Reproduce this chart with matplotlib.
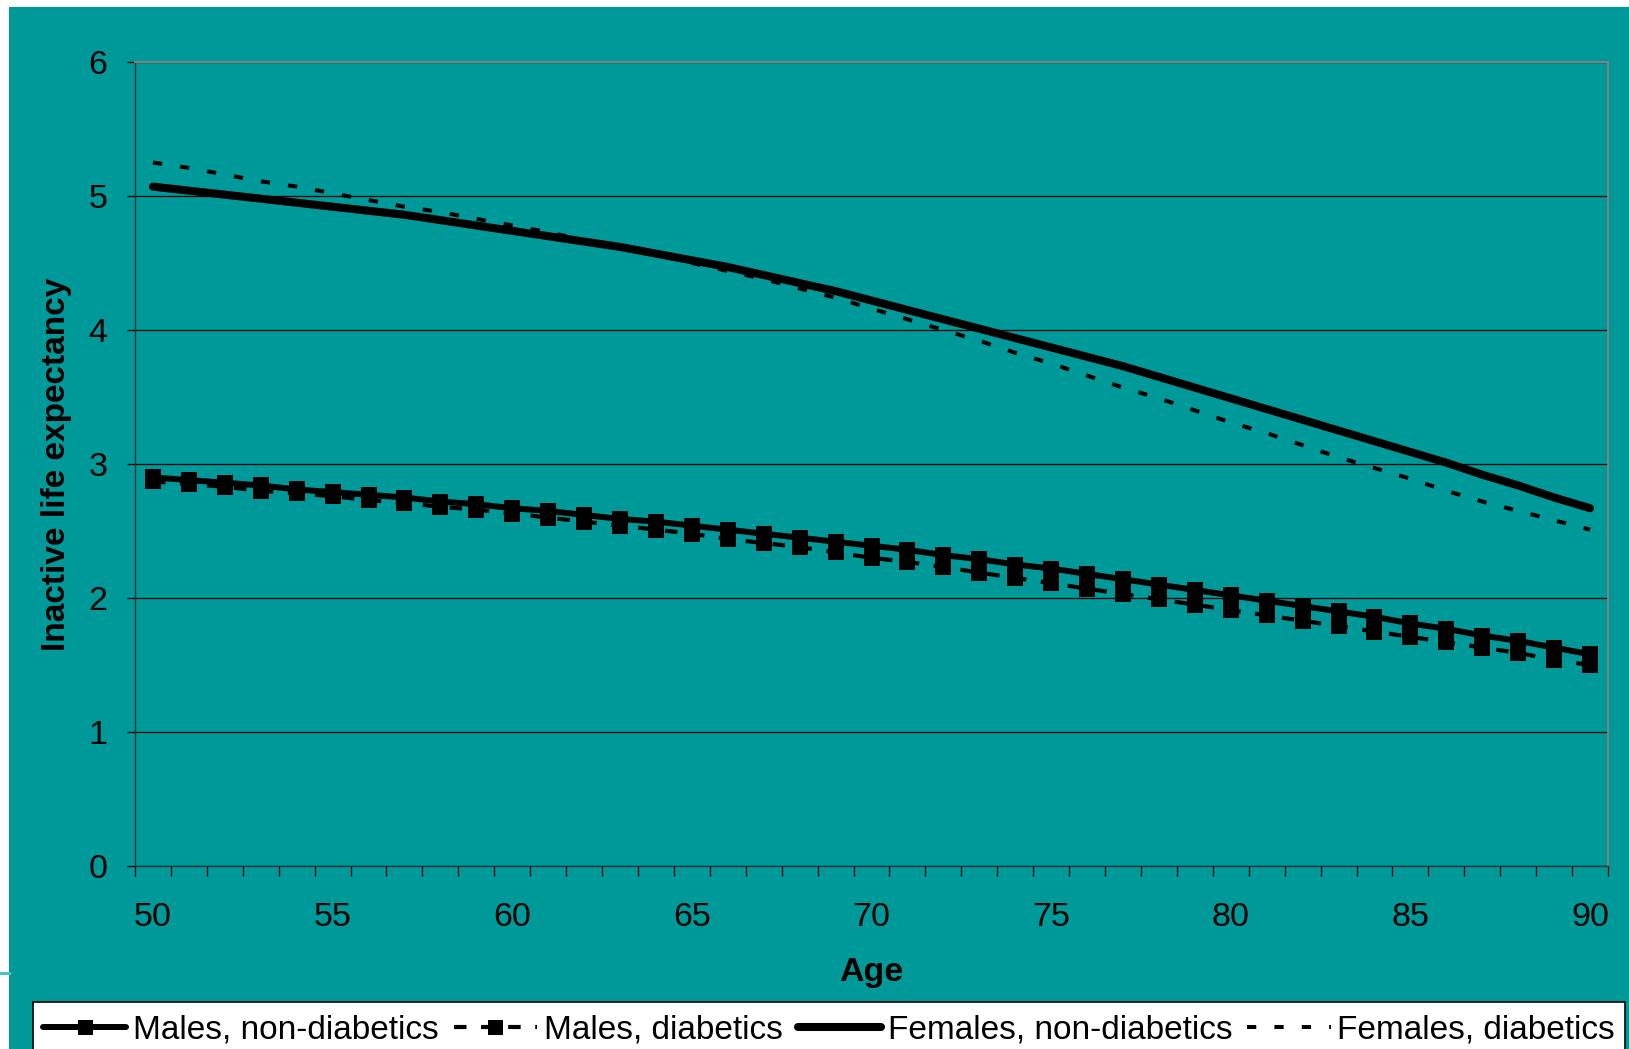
import matplotlib
matplotlib.use("Agg")
import matplotlib.pyplot as plt
from matplotlib.patches import Rectangle
from matplotlib.lines import Line2D
import numpy as np

ages = list(range(50, 91))
x_tick_labels = ["50", "55", "60", "65", "70", "75", "80", "85", "90"]
y_ticks = [0, 1, 2, 3, 4, 5, 6]

males_non_diabetics = [2.90, 2.88, 2.86, 2.84, 2.81, 2.79, 2.77, 2.75, 2.72, 2.70,
                       2.67, 2.65, 2.62, 2.59, 2.57, 2.54, 2.51, 2.48, 2.45, 2.42,
                       2.39, 2.36, 2.32, 2.29, 2.25, 2.22, 2.18, 2.14, 2.10, 2.06,
                       2.02, 1.98, 1.94, 1.90, 1.86, 1.81, 1.77, 1.72, 1.68, 1.63,
                       1.58]
males_diabetics = [2.87, 2.85, 2.83, 2.80, 2.78, 2.76, 2.73, 2.71, 2.68, 2.66,
                   2.63, 2.60, 2.57, 2.54, 2.51, 2.48, 2.44, 2.41, 2.38, 2.34,
                   2.30, 2.27, 2.23, 2.19, 2.15, 2.11, 2.07, 2.03, 1.99, 1.95,
                   1.91, 1.87, 1.83, 1.79, 1.75, 1.71, 1.67, 1.63, 1.59, 1.54,
                   1.50]
females_non_diabetics = [5.07, 5.04, 5.01, 4.98, 4.95, 4.92, 4.89, 4.86, 4.82, 4.78,
                         4.74, 4.70, 4.66, 4.62, 4.57, 4.52, 4.47, 4.41, 4.35, 4.29,
                         4.22, 4.15, 4.08, 4.01, 3.94, 3.87, 3.80, 3.73, 3.65, 3.57,
                         3.49, 3.41, 3.33, 3.25, 3.17, 3.09, 3.01, 2.92, 2.84, 2.75,
                         2.67]
females_diabetics = [5.25, 5.21, 5.16, 5.11, 5.07, 5.02, 4.97, 4.92, 4.88, 4.83,
                     4.78, 4.73, 4.67, 4.62, 4.56, 4.50, 4.44, 4.38, 4.31, 4.24,
                     4.16, 4.08, 4.00, 3.92, 3.83, 3.75, 3.66, 3.57, 3.49, 3.40,
                     3.31, 3.23, 3.14, 3.05, 2.97, 2.89, 2.80, 2.72, 2.65, 2.58,
                     2.51]
series_labels = ["Males, non-diabetics", "Males, diabetics",
                 "Females, non-diabetics", "Females, diabetics"]

W, H = 1629, 1049
TEAL = "#009999"
plt.rcParams['font.family'] = ['Liberation Sans', 'DejaVu Sans']

fig = plt.figure(figsize=(W / 100, H / 100), dpi=100)
fig.patch.set_facecolor("white")
# teal slide background
fig.add_artist(Rectangle((9 / W, 0), 1 - 9 / W, 1 - 7 / H, transform=fig.transFigure,
                         facecolor=TEAL, edgecolor="none", zorder=0))
fig.add_artist(Line2D([0, 9 / W], [1 - 973 / H, 1 - 973 / H], transform=fig.transFigure,
                      color="#4dc2c2", lw=2.2, zorder=1))

ax = fig.add_axes([135 / W, 1 - 866 / H, (1608 - 135) / W, (866 - 62) / H])
ax.set_facecolor(TEAL)

lm1, = ax.plot(ages, males_non_diabetics, color="black", lw=4.3, marker="s",
               markersize=12, markeredgewidth=0, solid_capstyle="round",
               solid_joinstyle="round", zorder=4)
lm2, = ax.plot(ages, males_diabetics, color="black", lw=3.0, marker="s",
               markersize=12, markeredgewidth=0, zorder=3)
lm2.set_dashes([3, 3.5])
lf1, = ax.plot(ages, females_non_diabetics, color="black", lw=5.8,
               solid_capstyle="round", solid_joinstyle="round", zorder=4)
lf2, = ax.plot(ages, females_diabetics, color="black", lw=2.9,
               dash_capstyle="butt", zorder=3)
lf2.set_dashes([2.3, 4.5])

ax.set_xlim(49.5, 90.5)
ax.set_ylim(0, 6)
ax.set_yticks(y_ticks)
ax.set_yticklabels([str(v) for v in y_ticks])
ax.set_xticks([int(s) for s in x_tick_labels])
ax.set_xticklabels(x_tick_labels)
ax.set_xticks(np.arange(49.5, 91.0, 1.0), minor=True)
ax.tick_params(axis="x", which="major", length=0, pad=26, labelsize=24.5, colors="black")
ax.tick_params(axis="x", which="minor", length=7.5, width=0.9, direction="out", color="black")
ax.tick_params(axis="y", which="major", length=6, width=0.9, direction="out", pad=14,
               labelsize=24.5, color="black")
ax.grid(axis="y", color="black", lw=0.9, zorder=1)
ax.set_axisbelow(True)
for s in ["top", "right"]:
    ax.spines[s].set_color("#808080")
    ax.spines[s].set_linewidth(1.5)
ax.spines["left"].set_color("#333333")
ax.spines["bottom"].set_color("#333333")
ax.spines["left"].set_linewidth(1.0)
ax.spines["bottom"].set_linewidth(1.0)

fig.text(871 / W, 1 - 973 / H, "Age", ha="center", va="center", fontsize=24.5,
         fontweight="bold")
fig.text(57 / W, 1 - 464 / H, "Inactive life expectancy", ha="center", va="center",
         rotation=90, fontsize=24, fontweight="bold")

# legend box
fig.add_artist(Rectangle((33 / W, -0.02), (1625 - 33) / W, 0.02 + (1049 - 1002) / H,
                         transform=fig.transFigure, facecolor="white",
                         edgecolor="black", lw=1.2, zorder=5))
leg = fig.legend([lm1, lm2, lf1, lf2], series_labels, ncol=4, frameon=False,
                 loc="center", bbox_to_anchor=(829 / W, 1 - 1030 / H),
                 fontsize=24, handlelength=2.5, handletextpad=0.2,
                 columnspacing=0.45, borderaxespad=0, markerscale=0.9)
leg.set_zorder(6)

fig.savefig("out.png", dpi=100, facecolor=fig.get_facecolor())
